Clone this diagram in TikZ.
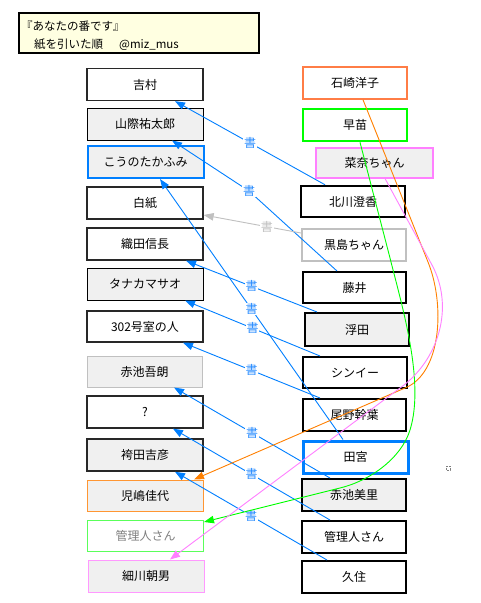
\documentclass[tikz,border=0pt]{standalone}
\usepackage{fontspec}
\newfontfamily\jp{Noto Sans CJK JP}
\usetikzlibrary{arrows.meta}
\definecolor{edgeblue}{RGB}{0,127,255}
\definecolor{lblblue}{RGB}{40,140,255}
\definecolor{boxgray}{RGB}{240,240,240}
\definecolor{lgray}{RGB}{192,192,192}
\definecolor{orangeA}{RGB}{255,128,0}
\definecolor{coralA}{RGB}{255,125,70}
\definecolor{orangeB}{RGB}{255,150,50}
\definecolor{greenA}{RGB}{0,255,0}
\definecolor{greenB}{RGB}{90,255,90}
\definecolor{pinkA}{RGB}{255,128,255}
\definecolor{pinkB}{RGB}{255,153,255}
\definecolor{titlebg}{RGB}{255,255,225}
\definecolor{dgray}{RGB}{40,40,40}
\begin{document}
\begin{tikzpicture}[x=1pt,y=-1pt,
  bx/.style={draw=black, line width=1pt, fill=white, inner sep=0pt,
    minimum width=116pt, minimum height=32pt,
    font=\jp\fontsize{12}{14}\selectfont, text=black},
  rb/.style={bx, minimum width=104pt, line width=2pt},
  gf/.style={fill=boxgray},
  edge/.style={draw=edgeblue, line width=0.9pt, -{Triangle[length=10pt,width=7.5pt]}},
  cedge/.style={line width=0.9pt, -{Triangle[length=10pt,width=7.5pt]}},
  lbl/.style={fill=white, inner sep=0.6pt, text=lblblue, font=\jp\fontsize{12}{13}\selectfont},
  ttl/.style={anchor=west, inner sep=0pt, font=\jp\fontsize{11.5}{13}\selectfont},
]
\useasboundingbox (0,0) rectangle (480,603);
\fill[white] (0,0) rectangle (480,603);

% title
\node[draw=black, line width=1.5pt, fill=titlebg, minimum width=240pt, minimum height=40pt, inner sep=0pt] (title) at (139,33) {};
\node[ttl] (t1) at (21,26) {『あなたの番です』};
\node[ttl] (t2) at (34,45) {紙を引いた順\hspace{16pt}@miz\_mus};

% left column
\node[bx, draw=dgray, line width=1.3pt] (yoshimura) at (145,84.5) {吉村};
\node[bx, gf] (yamagiwa) at (145,124) {山際祐太郎};
\node[bx, gf, draw=edgeblue, line width=2pt] (kouno) at (145.5,162) {こうのたかふみ};
\node[bx, draw=dgray, line width=1.3pt] (hakushi) at (145,203) {白紙};
\node[bx, draw=dgray, line width=1.3pt] (oda) at (145,244) {織田信長};
\node[bx, gf] (tanaka) at (145,284) {タナカマサオ};
\node[bx, draw=dgray, line width=1.3pt, minimum height=31pt] (room302) at (145,326.5) {302号室の人};
\node[bx, gf, draw=lgray, minimum width=115pt, minimum height=31pt] (goro) at (144.5,371.5) {赤池吾朗};
\node[bx, draw=dgray, line width=1.3pt] (question) at (145,412) {?};
\node[bx, gf, draw=dgray, line width=1.5pt] (hakamada) at (145,455) {袴田吉彦};
\node[bx, gf, draw=orangeB, minimum height=31pt] (kojima) at (145,495.5) {児嶋佳代};
\node[bx, draw=greenB, text=gray, minimum height=31pt] (kanriL) at (145.5,535.5) {管理人さん};
\node[bx, gf, draw=pinkB] (hosokawa) at (146,576) {細川朝男};

% right column
\node[rb, draw=coralA, line width=1.5pt] (ishizaki) at (355,83) {石崎洋子};
\node[rb, draw=greenA, line width=2.5pt] (sanae) at (355,125) {早苗};
\node[rb, gf, draw=pinkA, minimum width=117pt, minimum height=30pt] (nana) at (374.5,162.5) {菜奈ちゃん};
\node[rb, line width=2.5pt, minimum height=31pt] (kitagawa) at (353,201.5) {北川澄香};
\node[rb, draw=lgray] (kuroshima) at (354,245) {黒島ちゃん};
\node[rb, minimum width=103pt, minimum height=31pt] (fujii) at (354.5,287.5) {藤井};
\node[rb, gf, minimum height=33pt] (ukita) at (357,329.5) {浮田};
\node[rb, minimum height=31pt] (shinyi) at (355,372.5) {シンイー};
\node[rb, minimum width=103pt] (ono) at (354.5,415) {尾野幹葉};
\node[rb, draw=edgeblue, line width=3pt, minimum width=105pt] (tamiya) at (355.5,457) {田宮};
\node[rb, gf] (misato) at (354,495) {赤池美里};
\node[rb] (kanriR) at (354,537) {管理人さん};
\node[rb] (kusumi) at (354,577) {久住};

% small marker
\draw[gray, densely dotted, line width=0.6pt] (446,466) rectangle (450,470);

% blue edges
\draw[edge] ([xshift=-28pt]kitagawa.north) -- node[lbl]{書} ([xshift=30pt]yoshimura.south);
\coordinate (w2) at (249,191);
\draw[edge] ([xshift=-17.5pt]fujii.north) -- (w2) -- ([xshift=27pt]yamagiwa.south);
\node[lbl] (l2) at (w2) {書};
\draw[edge] ([xshift=-12.5pt]tamiya.north) -- node[lbl]{書} ([xshift=14.5pt]kouno.south);
\draw[edge] ([xshift=-40pt]ukita.north) -- node[lbl]{書} ([xshift=41pt]oda.south);
\draw[edge] ([xshift=-35pt]shinyi.north) -- node[lbl]{書} ([xshift=40pt]tanaka.south);
\draw[edge] ([xshift=-34.5pt]ono.north) -- node[lbl]{書} ([xshift=38pt]room302.south);
\draw[edge] ([xshift=-24pt]misato.north) -- node[lbl]{書} ([xshift=29.5pt]goro.south);
\draw[edge] ([xshift=-24pt]kanriR.north) -- node[lbl]{書} ([xshift=28pt]question.south);
\draw[edge] ([xshift=-27pt]kusumi.north) -- node[lbl]{書} ([xshift=30pt]hakamada.south);

% gray edge
\draw[edge, draw=lgray] ([yshift=12pt]kuroshima.west) -- node[lbl, text=lgray, pos=0.35]{書} ([yshift=-12pt]hakushi.east);

% coloured curved edges
\draw[cedge, draw=orangeA] ([xshift=8pt]ishizaki.south) -- (428,262)
  .. controls (445,304) and (442,373) .. (405,388) -- ([xshift=49pt]kojima.north);
\draw[cedge, draw=greenA] ([xshift=5pt]sanae.south) -- (390,258)
  .. controls (402,306) and (425,382) .. (410,430)
  .. controls (401,459) and (369,481) .. (340,488) -- ([yshift=13.5pt]kanriL.east);
\draw[cedge, draw=pinkA] ([xshift=10.5pt]nana.south) -- (432,265)
  .. controls (455,308) and (438,361) .. (400,388) -- ([xshift=24pt]hosokawa.north);
\end{tikzpicture}
\end{document}
